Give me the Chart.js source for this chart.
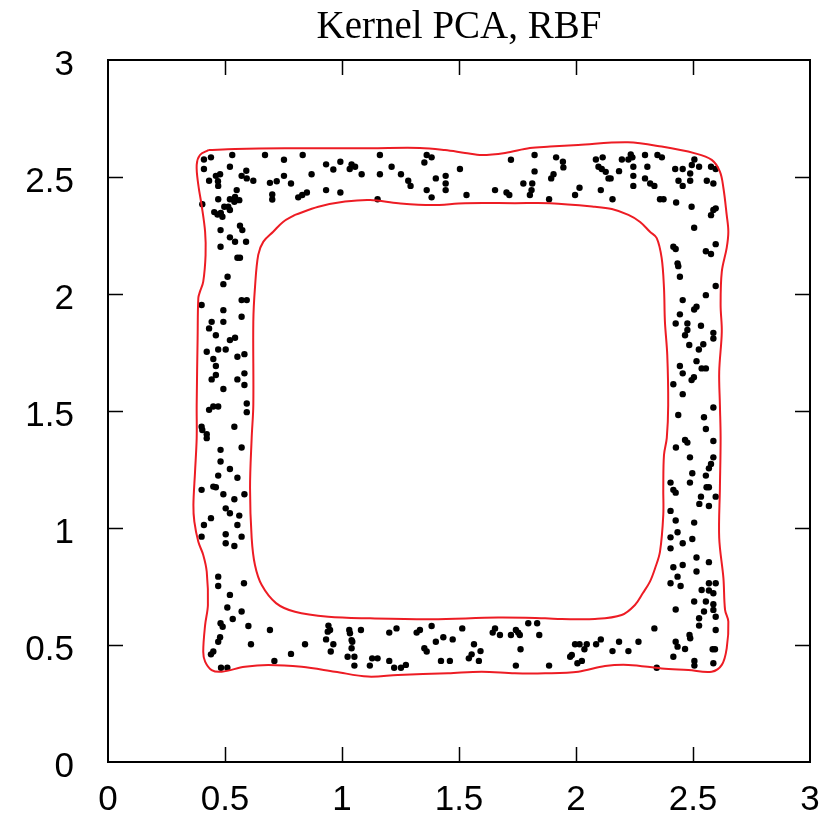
<!DOCTYPE html>
<html><head><meta charset="utf-8">
<script src="https://cdn.jsdelivr.net/npm/chart.js@4.4.1/dist/chart.umd.min.js"></script>
<style>html,body{margin:0;padding:0;background:#fff}</style>
</head><body>
<canvas id="c" width="831" height="829" style="width:831px;height:829px;display:block"></canvas>
<script>
const titleText = 'Kernel PCA, RBF';
const tickValues = [0, 0.5, 1, 1.5, 2, 2.5, 3];
const tickLabels = ['0', '0.5', '1', '1.5', '2', '2.5', '3'];

const topBand = [
[0.410,2.575],[0.440,2.584],[0.531,2.594],[0.671,2.594],[0.752,2.574],[0.832,2.594],[0.410,2.534],[0.521,2.544],
[0.591,2.527],[0.571,2.505],[0.593,2.494],[0.621,2.484],[0.461,2.505],[0.479,2.512],[0.470,2.482],[0.471,2.462],
[0.432,2.484],[0.692,2.475],[0.721,2.482],[0.752,2.505],[0.782,2.472],[0.870,2.512],[0.932,2.554],[0.963,2.532],
[0.993,2.565],[1.033,2.534],[1.041,2.554],[1.056,2.544],[1.084,2.512],[0.550,2.444],[0.471,2.405],[0.521,2.405],
[0.543,2.415],[0.561,2.401],[0.540,2.394],[0.403,2.384],[0.702,2.425],[0.702,2.404],[0.813,2.413],[0.830,2.423],
[0.850,2.434],[0.932,2.444],[0.993,2.434],
[1.162,2.594],[1.362,2.594],[1.383,2.584],[1.352,2.562],[1.212,2.544],[1.162,2.512],[1.252,2.512],[1.283,2.484],
[1.293,2.462],[1.401,2.494],[1.443,2.505],[1.443,2.472],[1.443,2.444],[1.504,2.534],[1.362,2.444],[1.383,2.413],
[1.532,2.423],[1.654,2.444],[1.703,2.434],[1.715,2.423],[1.722,2.574],[1.823,2.594],[1.823,2.524],[1.775,2.472],
[1.813,2.472],[1.810,2.444],[1.803,2.423],[1.152,2.405],
[1.915,2.584],[1.944,2.565],[1.946,2.541],[1.904,2.512],[1.894,2.494],[1.885,2.405],[2.085,2.575],[2.114,2.584],
[2.096,2.544],[2.110,2.534],[2.127,2.522],[2.139,2.494],[2.148,2.494],[2.184,2.525],[2.196,2.575],[2.224,2.575],
[2.234,2.596],[2.241,2.584],[2.245,2.544],[2.245,2.505],[2.245,2.462],[2.295,2.594],[2.305,2.544],[2.295,2.494],
[2.317,2.472],[2.335,2.462],[2.348,2.594],[2.367,2.584],[2.015,2.454],[1.996,2.423],[2.106,2.444],[2.156,2.405],
[2.359,2.405],[2.374,2.405],[2.428,2.391],[2.424,2.534],[2.456,2.534],[2.488,2.515],[2.495,2.551],[2.506,2.575],
[2.526,2.544],[2.577,2.544],[2.597,2.534],[2.438,2.484],[2.456,2.462],[2.488,2.484],[2.559,2.484],[2.587,2.472]
];

const bottomBand = [
[0.510,0.660],[0.571,0.643],[0.533,0.611],[0.481,0.593],[0.490,0.578],[0.600,0.581],[0.692,0.564],[0.479,0.533],
[0.471,0.514],[0.611,0.503],[0.450,0.472],[0.440,0.460],[0.483,0.403],[0.510,0.403],[0.711,0.432],[0.782,0.462],
[0.842,0.503],[0.942,0.583],[0.949,0.564],[0.939,0.557],[0.932,0.524],[0.963,0.503],[0.952,0.472],[1.031,0.564],
[1.034,0.550],[1.081,0.564],[1.041,0.521],[1.044,0.514],[1.041,0.486],[1.024,0.450],[1.053,0.450],[1.053,0.412],
[1.202,0.553],[1.233,0.571],[1.319,0.553],[1.333,0.564],[1.383,0.581],[1.401,0.514],[1.433,0.533],[1.473,0.524],
[1.514,0.571],[1.352,0.486],[1.362,0.472],[1.423,0.432],[1.461,0.432],[1.564,0.503],[1.592,0.474],[1.554,0.460],
[1.542,0.443],[1.585,0.432],[1.129,0.443],[1.152,0.443],[1.119,0.412],[1.202,0.432],[1.223,0.403],[1.252,0.403],
[1.273,0.415],[1.644,0.553],[1.654,0.571],[1.675,0.543],[1.722,0.543],[1.743,0.564],[1.753,0.553],[1.760,0.543],
[1.796,0.593],[1.834,0.593],[1.843,0.543],[1.763,0.482],[1.743,0.412],
[1.885,0.412],[1.996,0.503],[2.015,0.503],[2.046,0.503],[2.036,0.482],[1.982,0.457],[1.975,0.450],[2.025,0.432],
[2.006,0.422],[2.086,0.503],[2.106,0.524],[2.156,0.474],[2.184,0.514],[2.224,0.474],[2.267,0.514],[2.335,0.571],
[2.345,0.403],[2.426,0.652],[2.416,0.450],[2.426,0.514],[2.434,0.493],[2.466,0.483],[2.485,0.543],[2.488,0.529],
[2.506,0.432],[2.506,0.412],[2.526,0.614],[2.526,0.583],[2.547,0.643],[2.587,0.650],[2.597,0.621],[2.597,0.564],
[2.594,0.482],[2.584,0.482],[2.587,0.422]
];

const leftBand = [
[0.454,2.350],[0.468,2.340],[0.482,2.346],[0.497,2.373],[0.514,2.373],[0.521,2.359],[0.489,2.330],
[0.481,2.273],[0.564,2.292],[0.574,2.273],[0.521,2.242],[0.543,2.223],[0.590,2.223],[0.481,2.202],[0.553,2.155],
[0.564,2.155],[0.511,2.074],[0.493,2.042],[0.400,1.953],[0.571,1.974],[0.593,1.974],[0.493,1.931],[0.571,1.903],
[0.443,1.881],[0.493,1.881],[0.432,1.853],[0.461,1.824],[0.521,1.803],[0.543,1.813],[0.422,1.753],[0.471,1.763],
[0.503,1.763],[0.450,1.722],[0.461,1.692],[0.553,1.732],[0.583,1.743],[0.443,1.635],[0.461,1.654],[0.553,1.635],
[0.583,1.661],[0.583,1.611],[0.493,1.594],[0.593,1.532],
[0.432,1.505],[0.450,1.519],[0.471,1.519],[0.593,1.495],[0.400,1.433],[0.403,1.419],[0.422,1.401],[0.422,1.384],
[0.540,1.433],[0.481,1.334],[0.571,1.344],[0.481,1.284],[0.521,1.252],[0.471,1.224],[0.553,1.215],[0.400,1.163],
[0.450,1.177],[0.461,1.174],[0.493,1.144],[0.540,1.123],[0.583,1.144],[0.503,1.084],[0.521,1.063],[0.561,1.053],
[0.440,1.042],[0.410,1.013],[0.553,1.013],[0.400,0.963],[0.503,0.973],[0.571,0.963],[0.503,0.935],[0.540,0.923],
[0.471,0.792],[0.471,0.752],[0.581,0.764],[0.521,0.714]
];

const rightBand = [
[2.494,2.373],[2.587,2.359],[2.577,2.337],[2.597,2.366],[2.505,2.283],[2.416,2.202],[2.426,2.192],[2.555,2.183],
[2.577,2.171],[2.597,2.213],[2.434,2.131],[2.437,2.119],[2.444,2.074],[2.597,2.034],[2.555,1.995],[2.456,1.974],
[2.505,1.934],[2.515,1.946],[2.444,1.913],[2.426,1.874],[2.476,1.874],[2.476,1.846],[2.466,1.824],[2.534,1.864],
[2.587,1.834],[2.587,1.810],[2.484,1.782],[2.525,1.763],[2.544,1.785],[2.515,1.713],[2.444,1.692],[2.456,1.661],
[2.537,1.682],[2.555,1.682],[2.494,1.632],[2.504,1.644],[2.416,1.614],[2.456,1.572],
[2.587,1.515],[2.437,1.483],[2.547,1.473],[2.555,1.423],[2.466,1.376],[2.476,1.365],[2.587,1.372],[2.427,1.344],
[2.487,1.302],[2.587,1.302],[2.577,1.274],[2.568,1.255],[2.555,1.224],[2.497,1.234],[2.404,1.194],[2.416,1.163],
[2.426,1.151],[2.487,1.194],[2.558,1.174],[2.568,1.174],[2.597,1.134],[2.534,1.134],[2.527,1.103],[2.568,1.094],
[2.404,1.073],[2.426,1.032],[2.505,1.023],[2.434,0.982],[2.404,0.960],[2.497,0.953],[2.456,0.935],[2.404,0.913],
[2.515,0.874],[2.568,0.854],[2.416,0.832],[2.456,0.842],[2.515,0.814],[2.434,0.792],[2.404,0.764],[2.447,0.752],
[2.568,0.764],[2.597,0.764],[2.537,0.735],[2.568,0.733],[2.587,0.721],[2.505,0.686],[2.555,0.686],[2.587,0.674]
];

const outerContour = [
[0.429,2.615],[0.543,2.620],[0.756,2.623],[1.120,2.623],[1.333,2.624],[1.440,2.615],[1.526,2.603],[1.598,2.594],
[1.697,2.603],[1.803,2.624],[1.889,2.630],[2.009,2.637],[2.222,2.648],[2.366,2.630],[2.509,2.601],[2.580,2.573],
[2.615,2.523],[2.630,2.453],[2.644,2.338],[2.651,2.266],[2.644,2.197],[2.623,2.095],[2.618,1.953],[2.623,1.839],
[2.612,1.668],[2.615,1.526],[2.618,1.385],[2.615,1.171],[2.612,0.957],[2.630,0.786],[2.637,0.650],[2.651,0.600],
[2.644,0.486],[2.623,0.415],[2.580,0.386],[2.480,0.393],[2.366,0.400],[2.224,0.415],[2.124,0.410],[2.010,0.386],
[1.868,0.379],[1.739,0.379],[1.597,0.386],[1.453,0.379],[1.239,0.372],[1.111,0.365],[0.970,0.386],[0.828,0.407],
[0.685,0.415],[0.585,0.407],[0.486,0.386],[0.443,0.393],[0.415,0.429],[0.407,0.471],[0.415,0.585],[0.427,0.671],
[0.422,0.813],[0.407,0.885],[0.386,0.941],[0.369,1.027],[0.365,1.098],[0.372,1.241],[0.379,1.385],[0.379,1.526],
[0.383,1.812],[0.386,1.983],[0.393,2.010],[0.407,2.053],[0.417,2.167],[0.415,2.266],[0.400,2.380],[0.386,2.466],
[0.379,2.551],[0.393,2.594],[0.429,2.615]
];

const innerContour = [
[0.799,2.338],[0.899,2.373],[1.013,2.395],[1.120,2.402],[1.241,2.388],[1.383,2.380],[1.526,2.388],[1.739,2.388],
[1.889,2.388],[2.081,2.373],[2.153,2.363],[2.224,2.338],[2.274,2.308],[2.316,2.266],[2.345,2.239],[2.366,2.154],
[2.376,2.026],[2.380,1.882],[2.390,1.739],[2.394,1.526],[2.388,1.385],[2.376,1.312],[2.373,1.171],[2.373,1.056],
[2.359,0.899],[2.338,0.828],[2.316,0.771],[2.286,0.722],[2.252,0.671],[2.195,0.628],[2.081,0.611],[1.939,0.611],
[1.868,0.614],[1.667,0.617],[1.383,0.610],[1.120,0.614],[0.941,0.621],[0.799,0.642],[0.718,0.679],[0.657,0.756],
[0.628,0.842],[0.614,0.957],[0.607,1.171],[0.614,1.385],[0.621,1.526],[0.621,1.882],[0.628,2.026],[0.642,2.167],
[0.664,2.224],[0.706,2.266],[0.748,2.308],[0.799,2.338]
];

const toXY = arr => arr.map(p => ({x: p[0], y: p[1]}));
const dots = [].concat(topBand, bottomBand, leftBand, rightBand);

const RED = 'rgb(237,28,36)';
const TICK_FONT = {family: "'Liberation Sans', Arial, Helvetica, sans-serif", size: 35};

const framePlugin = {
  id: 'frame',
  afterDraw(chart) {
    const {ctx, chartArea: a, scales: {x, y}} = chart;
    ctx.save();
    ctx.strokeStyle = '#000';
    ctx.lineWidth = 2;
    ctx.strokeRect(a.left, a.top, a.right - a.left, a.bottom - a.top);
    ctx.lineWidth = 1.5;
    const L = 15;
    ctx.beginPath();
    tickValues.forEach(v => {
      if (v <= 0 || v >= 3) return;
      const px = Math.round(x.getPixelForValue(v)) + 0.5;
      const py = Math.round(y.getPixelForValue(v)) + 0.5;
      ctx.moveTo(px, a.bottom); ctx.lineTo(px, a.bottom - L);
      ctx.moveTo(px, a.top); ctx.lineTo(px, a.top + L);
      ctx.moveTo(a.left, py); ctx.lineTo(a.left + L, py);
      ctx.moveTo(a.right, py); ctx.lineTo(a.right - L, py);
    });
    ctx.stroke();
    ctx.fillStyle = '#000';
    ctx.font = "39px 'Liberation Serif', 'Times New Roman', serif";
    ctx.textAlign = 'center';
    ctx.textBaseline = 'alphabetic';
    ctx.fillText(titleText, (a.left + a.right) / 2, 38);
    ctx.restore();
  }
};

const setTicks = scale => { scale.ticks = tickValues.map(v => ({value: v})); };

new Chart(document.getElementById('c'), {
  type: 'scatter',
  data: {
    datasets: [
      {data: toXY(outerContour), showLine: true, pointRadius: 0, borderColor: RED, borderWidth: 2, tension: 0.35, fill: false},
      {data: toXY(innerContour), showLine: true, pointRadius: 0, borderColor: RED, borderWidth: 2, tension: 0.35, fill: false},
      {data: toXY(dots), showLine: false, pointRadius: 3.2, pointBackgroundColor: '#000', pointBorderWidth: 0, borderWidth: 0}
    ]
  },
  options: {
    responsive: false,
    animation: false,
    devicePixelRatio: 1,
    layout: {padding: {left: 0, right: 21, top: 60, bottom: 0}},
    plugins: {
      legend: {display: false},
      tooltip: {enabled: false},
      title: {display: false}
    },
    scales: {
      x: {
        type: 'linear', min: 0, max: 3,
        afterBuildTicks: setTicks,
        afterFit: s => { s.height = 67; s.paddingLeft = 0; s.paddingRight = 0; },
        grid: {display: false, drawTicks: false},
        border: {display: false},
        ticks: {color: '#000', font: TICK_FONT, padding: 17, maxRotation: 0, autoSkip: false,
          callback: (v, i) => tickLabels[i]}
      },
      y: {
        type: 'linear', min: 0, max: 3,
        afterBuildTicks: setTicks,
        afterFit: s => { s.width = 108; s.paddingTop = 0; s.paddingBottom = 0; },
        grid: {display: false, drawTicks: false},
        border: {display: false},
        ticks: {color: '#000', font: TICK_FONT, padding: 34, labelOffset: 5, autoSkip: false,
          callback: (v, i) => tickLabels[i]}
      }
    }
  },
  plugins: [framePlugin]
});
</script>
</body></html>
